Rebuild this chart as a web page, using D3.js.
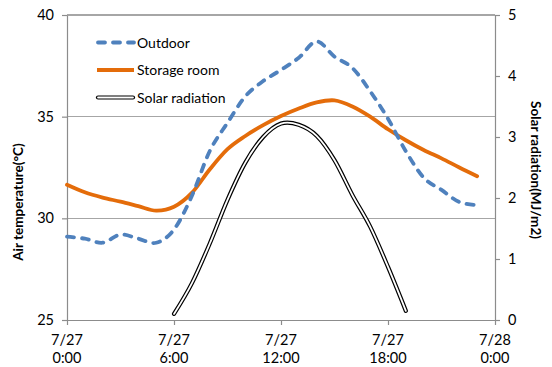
<!DOCTYPE html>
<html>
<head>
<meta charset="utf-8">
<script src="https://cdn.jsdelivr.net/npm/d3@7"></script>
<style>
  html, body { margin: 0; padding: 0; background: #fff; }
  svg { display: block; }
  text { font-family: Lato, "Open Sans", sans-serif; fill: #000; }
</style>
</head>
<body>
<svg id="chart" width="552" height="367"></svg>
<script>
// Hour of day for each reading (7/27)
const hours = [0, 1, 2, 3, 4, 5, 6, 7, 8, 9, 10, 11, 12, 13, 14, 15, 16, 17, 18, 19, 20, 21, 22, 23];
// Air temperature, °C
const outdoor = [29.1, 29.0, 28.8, 29.2, 29.0, 28.8, 29.45, 31.1, 33.3, 34.7, 36.0, 36.75, 37.3, 37.9, 38.7, 37.95, 37.4, 36.25, 34.9, 33.3, 32.0, 31.4, 30.8, 30.65];
const storage = [31.65, 31.28, 31.02, 30.82, 30.6, 30.38, 30.57, 31.25, 32.4, 33.4, 34.05, 34.58, 35.03, 35.4, 35.7, 35.8, 35.5, 35.0, 34.38, 33.84, 33.36, 32.95, 32.5, 32.07];
// Solar radiation, MJ/m2
const solarHours = [6, 7, 8, 9, 10, 11, 12, 13, 14, 15, 16, 17, 18, 19];
const solar = [0.1, 0.6, 1.25, 1.97, 2.58, 3.0, 3.22, 3.2, 3.02, 2.62, 2.05, 1.53, 0.87, 0.15];

// Axis ticks
const xTicks = [0, 6, 12, 18, 24];
const xTickDates = ["7/27", "7/27", "7/27", "7/27", "7/28"];
const xTickTimes = ["0:00", "6:00", "12:00", "18:00", "0:00"];
const tempTicks = [25, 30, 35, 40];
const solarTicks = [0, 1, 2, 3, 4, 5];

const legendItems = ["Outdoor", "Storage room", "Solar radiation"];

const svg = d3.select("#chart");
const m = { left: 67, right: 495, top: 15, bottom: 320 };
const axisGrey = "#8c8c8c";

const x = d3.scaleLinear().domain([0, 24]).range([m.left, m.right]);
const yT = d3.scaleLinear().domain([25, 40]).range([m.bottom, m.top]);
const yS = d3.scaleLinear().domain([0, 5]).range([m.bottom, m.top]);

// Horizontal gridlines
svg.append("g")
  .selectAll("line")
  .data(tempTicks.filter(d => d > 25))
  .join("line")
  .attr("x1", m.left).attr("x2", m.right)
  .attr("y1", d => yT(d)).attr("y2", d => yT(d))
  .attr("stroke", "#a6a6a6").attr("stroke-width", 1.2)
  .attr("shape-rendering", "crispEdges");

function styleAxis(g) {
  g.select(".domain").attr("stroke", axisGrey).attr("stroke-width", 1.2);
  g.selectAll(".tick line").attr("stroke", axisGrey).attr("stroke-width", 1.2);
  g.selectAll("text").style("font-family", "Lato, sans-serif").style("font-size", "14.5px").attr("fill", "#000");
}

// Left axis (temperature)
svg.append("g")
  .attr("transform", `translate(${m.left},0)`)
  .call(d3.axisLeft(yT).tickValues(tempTicks).tickSize(5).tickSizeOuter(0).tickPadding(8).tickFormat(d3.format("d")))
  .call(styleAxis);

// Right axis (solar radiation)
svg.append("g")
  .attr("transform", `translate(${m.right},0)`)
  .call(d3.axisRight(yS).tickValues(solarTicks).tickSize(5).tickSizeOuter(0).tickPadding(8).tickFormat(d3.format("d")))
  .call(styleAxis);

// Bottom axis (time), two-line labels
const xAxis = svg.append("g")
  .attr("transform", `translate(0,${m.bottom})`)
  .call(d3.axisBottom(x).tickValues(xTicks).tickSize(5).tickSizeOuter(0).tickFormat(""))
  .call(styleAxis);
xAxis.selectAll(".tick text").remove();
const xl = svg.append("g").selectAll("text")
  .data(xTicks)
  .join("text")
  .attr("text-anchor", "middle")
  .style("font-size", "14.5px");
xl.append("tspan").attr("x", d => x(d)).attr("y", 345).text((d, i) => xTickDates[i]);
xl.append("tspan").attr("x", d => x(d)).attr("y", 363).text((d, i) => xTickTimes[i]);

// Axis titles
svg.append("text")
  .attr("transform", `translate(23,202) rotate(-90)`)
  .attr("text-anchor", "middle")
  .style("font-size", "13.5px").style("font-weight", "bold")
  .text("Air temperature(°C)");
svg.append("text")
  .attr("transform", `translate(531,170) rotate(90)`)
  .attr("text-anchor", "middle")
  .style("font-size", "13.5px").style("font-weight", "bold")
  .text("Solar radiation(MJ/m2)");

// Series lines
const curve = d3.curveCardinal.tension(0);
const lineT = d3.line().x(d => x(d[0])).y(d => yT(d[1])).curve(curve);
const lineS = d3.line().x(d => x(d[0])).y(d => yS(d[1])).curve(curve);

const solarPts = d3.zip(solarHours, solar);
svg.append("path").attr("d", lineS(solarPts))
  .attr("fill", "none").attr("stroke", "#000").attr("stroke-width", 4.2).attr("stroke-linecap", "round");
svg.append("path").attr("d", lineS(solarPts))
  .attr("fill", "none").attr("stroke", "#fff").attr("stroke-width", 1.8).attr("stroke-linecap", "round");

svg.append("path").attr("d", lineT(d3.zip(hours, storage)))
  .attr("fill", "none").attr("stroke", "#e46c0a").attr("stroke-width", 3.8).attr("stroke-linecap", "round");

svg.append("path").attr("d", lineT(d3.zip(hours, outdoor)))
  .attr("fill", "none").attr("stroke", "#4f81bd").attr("stroke-width", 3.8)
  .attr("stroke-dasharray", "7,8").attr("stroke-linecap", "round");

// Legend
const lg = svg.append("g");
const ly = [42.5, 70, 97.5];
legendItems.forEach((name, i) => {
  const g = lg.append("g");
  if (i === 0) {
    g.append("line").attr("x1", 98).attr("x2", 134).attr("y1", ly[i]).attr("y2", ly[i])
      .attr("stroke", "#4f81bd").attr("stroke-width", 3.8)
      .attr("stroke-dasharray", "7,8").attr("stroke-linecap", "round");
  } else if (i === 1) {
    g.append("line").attr("x1", 97).attr("x2", 134).attr("y1", ly[i]).attr("y2", ly[i])
      .attr("stroke", "#e46c0a").attr("stroke-width", 3.8);
  } else {
    g.append("line").attr("x1", 98).attr("x2", 133).attr("y1", ly[i]).attr("y2", ly[i])
      .attr("stroke", "#000").attr("stroke-width", 4.2).attr("stroke-linecap", "round");
    g.append("line").attr("x1", 98).attr("x2", 133).attr("y1", ly[i]).attr("y2", ly[i])
      .attr("stroke", "#fff").attr("stroke-width", 1.8).attr("stroke-linecap", "round");
  }
  g.append("text").attr("x", 137).attr("y", ly[i] + 5)
    .style("font-size", "14px").text(name);
});
</script>
</body>
</html>
